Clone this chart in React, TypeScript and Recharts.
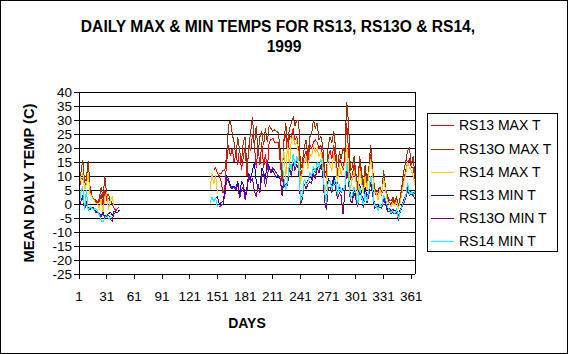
import { LineChart, Line, XAxis, YAxis, CartesianGrid, ReferenceLine } from "recharts";

// sampled every second day; the year has no readings between day 45 and 143
const earlyDays = [1, 3, 5, 7, 9, 11, 13, 15, 17, 19, 21, 23, 25, 27, 29, 31, 33, 35, 37, 39, 41, 43, 45];
const mainDays = [
  143, 145, 147, 149, 151, 153, 155, 157, 159, 161,
  163, 165, 167, 169, 171, 173, 175, 177, 179, 181,
  183, 185, 187, 189, 191, 193, 195, 197, 199, 201,
  203, 205, 207, 209, 211, 213, 215, 217, 219, 221,
  223, 225, 227, 229, 231, 233, 235, 237, 239, 241,
  243, 245, 247, 249, 251, 253, 255, 257, 259, 261,
  263, 265, 267, 269, 271, 273, 275, 277, 279, 281,
  283, 285, 287, 289, 291, 293, 295, 297, 299, 301,
  303, 305, 307, 309, 311, 313, 315, 317, 319, 321,
  323, 325, 327, 329, 331, 333, 335, 337, 339, 341,
  343, 345, 347, 349, 351, 353, 355, 357, 359, 361,
  363, 365,
];

const N = null;

const rs13MaxEarly = [4, 9, 9, 6, 8, 11, 5, 3, 1.5, 1, 0, 1, 3.5, 0, 5, 1.5, 2, 1, 0, -1.5, -2.5, -1.5, -1];
const rs13MaxMain = [
  N, N, 12, 13, 11, 10, 8, 4, 6, 15,
  21, 17, 20, 15, 18, 14, 20, 12, 17, 20,
  10, 21, 19, 25, 21, 13, 20, 14, 22, 13,
  18, 12, 22, 23, 23.5, 22, 22, 22, 15, 8,
  23, 24.5, 18, 24.5, 24, 27, 23, 24, 19, 9,
  13, 17, 19, 15, 21, 20, 22, 23, 22, 20,
  21, 17, 10, 9, 17, 19, 16, 21, 16, 7,
  16, 15, 12, 17, 29, 19, 9, 10, 14, 9,
  4, 14, 10, 4, 12, 7, 11, 18, 11, 5,
  3, 4, 5, 3, 9, 5, 2, 0.5, 0, 1.5,
  0, 1.5, -1.5, 1.5, 5, 9, 12, 15, 16, 13,
  13, 9,
];

const rs13oMaxEarly = [8, 11, 15.8, 8, 9, 15.5, 6, 3, 1.5, 1.5, 0.5, 2, 6, 2, 10, 3, 3.5, 1.5, 0, N, N, N, N];
const rs13oMaxMain = [
  N, N, N, N, N, 11, 11, 12, 12, 18,
  28, 30, 25, 22, 17, 24, 19, 15, 22, 24,
  12, 20, 26, 31, 20, 28, 18, 24, 26, 21,
  27, 22, 28, 27, 26, 26.5, 26, 25.5, 19, 10,
  22, 29, 21, 27, 29, 31, 28, 30, 30, 12,
  15, 20, 23, 17, 24, 25, 30, 27, 29, 23,
  24, 21, 12, 11, 21, 24, 22, 26, 20, 10,
  19, 16, 20, 18, 36.5, 29, 12, 13, 17, 11,
  6, 17, 12, 6, 14, 8, 13, 21, 13, 6,
  4, 5, 6, 4, 12, 6, 3, 1.5, 1, 2.5,
  1, 2.5, -1, 2.5, 7, 12, 15, 19, 20, 14,
  17, 10,
];

const rs14MaxEarly = [6, 10, 11, 5, 7, 11, 3.5, 2.5, 1.5, 0.5, 0, -1.5, 1.5, -3, 2.5, 4, -2, 1.5, 2.5, -0.5, N, N, N];
const rs14MaxMain = [
  5, 11, 7, 10.5, 3.5, N, N, N, N, N,
  N, N, N, N, N, N, N, N, N, N,
  N, N, N, N, N, N, N, N, N, N,
  N, N, N, N, N, N, N, N, N, 14,
  19, 9, 22, 13, 23, 24, 21, 22, 17, 7,
  11.5, 15, 17, 12.5, 18, 17, 21, 18.5, 20, 17,
  18.5, 15, 4, 7, 16, 14, 12, 18, 14, 8,
  14, 10.5, 13, 14, 21, 13, 5, 9, 12, 8,
  3, 13, 8, 3.5, 10, 5, 11, 16, 11, 4,
  4, 1.5, 5, 3.5, 9, 5, 1, 0, -1, 0.5,
  -0.5, 1, -1.5, 0.5, 4, 8, 11, 15, 13, 12,
  10, 7,
];

const rs13MinEarly = [-1, 1, 3, -1.5, 0.5, -1.5, -2, -1, -1.5, -2.5, -2.5, -3.5, -4, -3, -4.5, -4, -3.5, -3, -4, -3.5, -3, -3, -2];
const rs13MinMain = [
  N, N, N, 2, 2.5, 0, 0.5, 1, 4, 10,
  9, 6.5, 6, 6.5, 5.5, 8, 3, 8, 7, 2.5,
  6, 11, 9, 12, 15, 8, 6, 5, 13, 11,
  9.5, 15, 13, 11, 12, 10.5, 9.5, 9.5, 9, 4,
  9, 6, 8, 15, 12, 17, 14, 16, 14, 1.5,
  3, 9, 7, 8.5, 10, 9, 13, 11, 15, 13,
  16, 13, 3, 1, 9, 8, 6, 10, 8, 3.5,
  6, 4, 5.5, 6, 14, 10, 3, 2, 6, 3,
  0.5, 7, 4, 0, 6, 2, 5, 10, 6, 0,
  -0.5, -1, 0, -0.5, 3, 1, -2, -1.5, -2.5, -2,
  -2.5, -2, -4.5, -2, -0.5, 1.5, 3, 6, 4, 4.5,
  4, 3.5,
];

const rs13oMinEarly = [0, 1, 2, -2, 0, -1.5, -2, -1.5, -1.5, -3, -3, -4, -4.5, -3.5, -5, -4.5, -4, -5.5, -6, -2.5, -2.5, N, N];
const rs13oMinMain = [
  N, N, N, N, N, -1, -0.5, 0, 3, 9,
  8, 6, 5.5, 6, 5, 7, 2, 5, 6, 1.5,
  5, 10, 8, 9, 4.5, 2.5, 7, 4, 10, 11,
  6, 10, 13.5, 11.5, 13, 12, 11, 10, 9, 3,
  8, 5, 7, 13, 10, 15, 12, 14, 12, 0,
  2, 7, 5.5, 7, 8, 7.5, 11, 9, 13, 11,
  14, 11, 1, -2, 6, 6, 4, 8, 6, 2,
  4, 3, -3.5, 4, 12, 8, 1, 0.5, 4, 1.5,
  -1, 5, 2.5, -1.5, 4, 0.5, 3, 8, 4, -1.5,
  -1, -2, -1, -1.5, 2, 0, -2.5, -2.5, -3.5, -3,
  -3.5, -3, -5.5, -3, -1, 0.5, 2, 5, 3, 3.5,
  3, 2,
];

const rs14MinEarly = [-2, 4, 6.5, -2, 5, -2.5, -1, -1.5, -2, -1.5, -2.5, -4, -6, -6.5, -5, -4, -5.5, -4.5, -5, N, N, N, N];
const rs14MinMain = [
  0.5, 2.5, 1, 2, -1, N, N, N, N, N,
  N, N, N, N, N, N, N, N, N, N,
  N, N, N, N, N, N, N, N, N, N,
  N, N, N, N, N, N, N, N, N, 15,
  9, 5, 8, 15, 12, 18, 13.5, 17, 14, 1,
  3, 9, 7, 8, 11, 10, 13.5, 11.5, 15, 13,
  16, 13.5, 4, 0.5, 8, 8, 5.5, 7, 9, 3,
  7, 4.5, 5, 6, 15, 10, 2, 3, 6, 4,
  -0.5, 6.5, 3, -0.5, 4, 1, 5, 10, 6, -0.5,
  -0.5, -2.3, 0, -1, 3, 2, -1, -2, -3, -2.3,
  -3.5, -2, -5.5, -2.5, -0.5, 1, 3, 7.5, 3.5, 4.5,
  3.5, 4.5,
];

const xTicks = [1, 31, 61, 91, 121, 151, 181, 211, 241, 271, 301, 331, 361];
const yTicks = [-25, -20, -15, -10, -5, 0, 5, 10, 15, 20, 25, 30, 35, 40];

const series = [
  { key: "rs13Max", name: "RS13 MAX T", color: "#FF0000", values: [...rs13MaxEarly, ...rs13MaxMain] },
  { key: "rs13oMax", name: "RS13O MAX T", color: "#993300", values: [...rs13oMaxEarly, ...rs13oMaxMain] },
  { key: "rs14Max", name: "RS14 MAX T", color: "#FFCC00", values: [...rs14MaxEarly, ...rs14MaxMain] },
  { key: "rs13Min", name: "RS13 MIN T", color: "#0000FF", values: [...rs13MinEarly, ...rs13MinMain] },
  { key: "rs13oMin", name: "RS13O MIN T", color: "#800080", values: [...rs13oMinEarly, ...rs13oMinMain] },
  { key: "rs14Min", name: "RS14 MIN T", color: "#00FFFF", values: [...rs14MinEarly, ...rs14MinMain] },
];

const legendTops = [1, 25, 48, 71, 94, 117];

const days = [...earlyDays, ...mainDays];
const data = days.map((day, i) => {
  const row: Record<string, number | null> = { day };
  series.forEach((s) => {
    row[s.key] = s.values[i];
  });
  return row;
});

const font = '"Liberation Sans", Arial, sans-serif';
const tickStyle = { fontSize: 13.5, fill: "#000", fontFamily: font };

export default function App() {
  return (
    <div
      style={{
        position: "fixed",
        left: 0,
        top: 0,
        width: 568,
        height: 354,
        background: "#fff",
        fontFamily: font,
        color: "#000",
      }}
    >
      <style>{`svg.recharts-surface { shape-rendering: crispEdges; }`}</style>
      <div style={{ position: "absolute", left: 0, top: 0, width: 568, height: 354, boxSizing: "border-box", border: "1px solid #000" }} />

      <div style={{ position: "absolute", left: 78, top: 18.7, width: 400, textAlign: "center", fontSize: 15.6, lineHeight: 1, fontWeight: "bold", whiteSpace: "nowrap" }}>
        DAILY MAX &amp; MIN TEMPS FOR RS13, RS13O &amp; RS14,
      </div>
      <div style={{ position: "absolute", left: 234, top: 38.8, width: 100, textAlign: "center", fontSize: 15.6, lineHeight: 1, fontWeight: "bold" }}>
        1999
      </div>

      <div style={{ position: "absolute", left: 0, top: 0 }}>
        <LineChart width={568} height={354} data={data} margin={{ top: 92, right: 153, bottom: 50, left: 0 }}>
          <CartesianGrid vertical={false} stroke="#000" />
          <XAxis
            dataKey="day"
            type="number"
            domain={[1, 365]}
            ticks={xTicks}
            interval={0}
            height={30}
            tick={tickStyle}
            tickSize={5}
            tickMargin={12}
            axisLine={{ stroke: "#000" }}
            tickLine={{ stroke: "#000" }}
          />
          <YAxis
            domain={[-25, 40]}
            ticks={yTicks}
            interval={0}
            width={79}
            tick={tickStyle}
            tickSize={5}
            tickMargin={2}
            axisLine={{ stroke: "#000" }}
            tickLine={{ stroke: "#000" }}
          />
          <ReferenceLine x={365} stroke="#000" />
          {series.map((s) => (
            <Line
              key={s.key}
              dataKey={s.key}
              name={s.name}
              type="linear"
              stroke={s.color}
              strokeWidth={1}
              dot={false}
              activeDot={false}
              connectNulls={false}
              isAnimationActive={false}
            />
          ))}
        </LineChart>
      </div>

      <div
        style={{
          position: "absolute",
          left: -71,
          top: 172.5,
          width: 200,
          height: 20,
          lineHeight: "20px",
          textAlign: "center",
          fontSize: 14.7,
          fontWeight: "bold",
          transform: "rotate(-90deg)",
          whiteSpace: "nowrap",
        }}
      >
        MEAN DAILY TEMP (C)
      </div>
      <div style={{ position: "absolute", left: 197, top: 315.5, width: 100, textAlign: "center", fontSize: 14, lineHeight: 1, fontWeight: "bold" }}>
        DAYS
      </div>

      <div
        style={{
          position: "absolute",
          left: 427,
          top: 113,
          width: 131,
          height: 139,
          boxSizing: "border-box",
          border: "1px solid #000",
          background: "#fff",
        }}
      >
        {series.map((s, i) => (
          <div key={s.key} style={{ position: "absolute", left: 0, top: legendTops[i], width: 128, height: 20 }}>
            <div style={{ position: "absolute", left: 3, top: 10, width: 23, height: 1, background: s.color }} />
            <div style={{ position: "absolute", left: 31, top: 0, lineHeight: "20px", fontSize: 14, whiteSpace: "nowrap" }}>{s.name}</div>
          </div>
        ))}
      </div>
    </div>
  );
}
